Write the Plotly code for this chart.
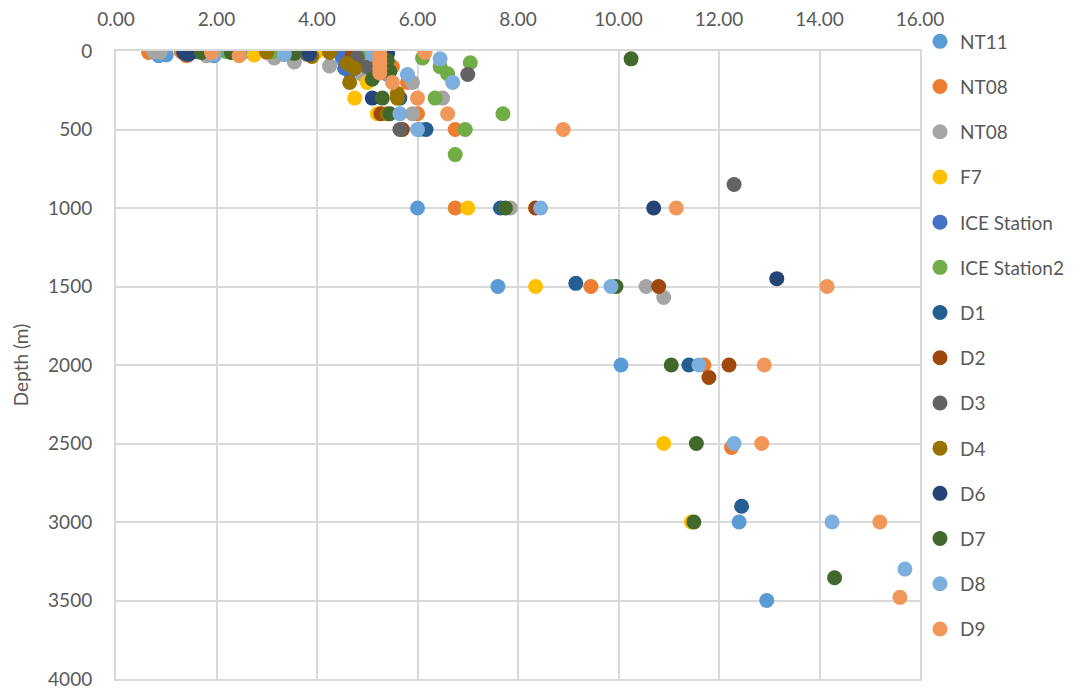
import plotly.graph_objects as go

# Series names and colours
names = ["NT11", "NT08", "NT08", "F7", "ICE Station", "ICE Station2", "D1", "D2",
         "D3", "D4", "D6", "D7", "D8", "D9"]
colors = ["#5B9BD5", "#ED7D31", "#A5A5A5", "#FFC000", "#4472C4", "#70AD47", "#255E91",
          "#9E480E", "#636363", "#997300", "#264478", "#43682B", "#7CAFDD", "#F1975A"]

# values (x) and depths (m)
nt11_x = [0.85, 1.0, 1.95, 2.55, 4.5, 5.4, 6.05, 6.0, 7.6, 10.05, 12.4, 12.95]
nt11_d = [30, 25, 30, 5, 50, 150, 500, 1000, 1500, 2000, 3000, 3500]

nt08a_x = [0.65, 1.3, 1.4, 2.0, 3.0, 5.5, 5.8, 6.0, 6.75, 6.75, 9.45, 11.7, 12.25]
nt08a_d = [10, 5, 30, 10, 10, 100, 200, 400, 500, 1000, 1500, 2000, 2525]

nt08b_x = [0.75, 0.88, 1.8, 3.15, 3.55, 4.25, 4.9, 5.9, 6.5, 5.9, 7.85, 10.55, 10.9]
nt08b_d = [5, 10, 30, 45, 70, 95, 150, 200, 300, 400, 1000, 1500, 1570]

f7_x = [2.75, 4.0, 4.75, 5.2, 5.0, 7.0, 8.35, 10.9, 11.45]
f7_d = [25, 5, 300, 400, 200, 1000, 1500, 2500, 3000]

ice_x = [4.5, 4.6, 4.65, 4.8, 5.2, 4.55]
ice_d = [30, 80, 130, 50, 70, 110]

ice2_x = [2.2, 3.1, 4.95, 6.1, 6.45, 6.6, 7.05, 6.35, 7.7, 6.95, 6.75]
ice2_d = [5, 5, 5, 45, 100, 145, 75, 300, 400, 500, 660]

d1_x = [1.4, 2.3, 5.4, 5.65, 6.17, 7.65, 9.15, 11.4, 12.45]
d1_d = [20, 10, 10, 300, 500, 1000, 1480, 2000, 2900]

d2_x = [1.35, 3.0, 4.7, 5.27, 5.7, 8.35, 10.8, 12.2, 11.8]
d2_d = [10, 5, 30, 400, 500, 1000, 1500, 2000, 2080]

d3_x = [1.6, 3.8, 4.8, 5.0, 5.65, 7.0, 12.3]
d3_d = [5, 20, 40, 100, 500, 150, 850]

d4_x = [3.0, 3.35, 3.9, 4.25, 4.6, 4.75, 4.65, 5.4, 5.6, 5.6]
d4_d = [5, 20, 35, 10, 80, 110, 200, 400, 300, 270]

d6_x = [1.35, 1.45, 2.35, 3.85, 5.4, 5.1, 10.7, 13.15]
d6_d = [10, 20, 5, 20, 20, 300, 1000, 1450]

d7_x = [1.7, 2.3, 3.55, 5.1, 5.4, 5.45, 5.3, 5.45, 7.75, 9.95, 11.05, 11.55, 11.5, 14.3, 10.25]
d7_d = [10, 10, 15, 180, 60, 130, 300, 400, 1000, 1500, 2000, 2500, 3000, 3355, 50]

d8_x = [1.95, 3.35, 5.1, 5.8, 5.65, 6.0, 6.45, 6.7, 8.45, 9.85, 11.6, 12.3, 14.25, 15.7]
d8_d = [20, 20, 20, 150, 400, 500, 50, 200, 1000, 1500, 2000, 2500, 3000, 3300]

d9_x = [1.9, 2.45, 5.25, 5.25, 5.25, 5.25, 5.25, 5.5, 6.0, 6.6, 8.9, 6.15, 11.15, 14.15,
        12.9, 12.85, 15.2, 15.6]
d9_d = [10, 30, 20, 50, 80, 110, 140, 200, 300, 400, 500, 10, 1000, 1500, 2000, 2500,
        3000, 3480]

xs = [nt11_x, nt08a_x, nt08b_x, f7_x, ice_x, ice2_x, d1_x, d2_x, d3_x, d4_x, d6_x, d7_x, d8_x, d9_x]
ds = [nt11_d, nt08a_d, nt08b_d, f7_d, ice_d, ice2_d, d1_d, d2_d, d3_d, d4_d, d6_d, d7_d, d8_d, d9_d]

FONT = "Lato"
GREY_TXT = "#595959"
GRID = "#D9D9D9"

fig = go.Figure()
for i, (n, c, x, d) in enumerate(zip(names, colors, xs, ds)):
    fig.add_trace(go.Scatter(
        x=x, y=d, mode="markers", name=n, legendgroup=f"g{i}",
        marker=dict(color=c, size=15, line=dict(width=0)),
    ))

fig.update_layout(
    width=1078, height=685,
    margin=dict(l=108, r=166, t=43, b=14, autoexpand=False),
    paper_bgcolor="white", plot_bgcolor="white",
    font=dict(family=FONT, size=19, color=GREY_TXT),
    showlegend=True,
    legend=dict(
        x=1.0, xanchor="left", y=0.547, yanchor="middle",
        font=dict(family=FONT, size=19, color=GREY_TXT),
        tracegroupgap=17.5, itemsizing="trace",
        bgcolor="rgba(0,0,0,0)",
    ),
)
fig.update_xaxes(
    side="top", range=[0, 16], dtick=2, tick0=0, tickformat=".2f",
    showgrid=True, gridcolor=GRID, gridwidth=2, zeroline=False,
    showline=True, linecolor=GRID, linewidth=2, mirror=True,
    ticks="", ticklabelstandoff=15,
    tickfont=dict(family=FONT, size=19, color=GREY_TXT),
)
fig.update_yaxes(
    range=[4000, 0], dtick=500, tick0=0,
    showgrid=True, gridcolor=GRID, gridwidth=2, zeroline=False,
    showline=True, linecolor=GRID, linewidth=2, mirror=True,
    ticks="", ticklabelstandoff=18,
    tickfont=dict(family=FONT, size=19, color=GREY_TXT),
    title=dict(text="Depth (m)", font=dict(family=FONT, size=19, color=GREY_TXT), standoff=14),
)

fig.write_html("out.html")
